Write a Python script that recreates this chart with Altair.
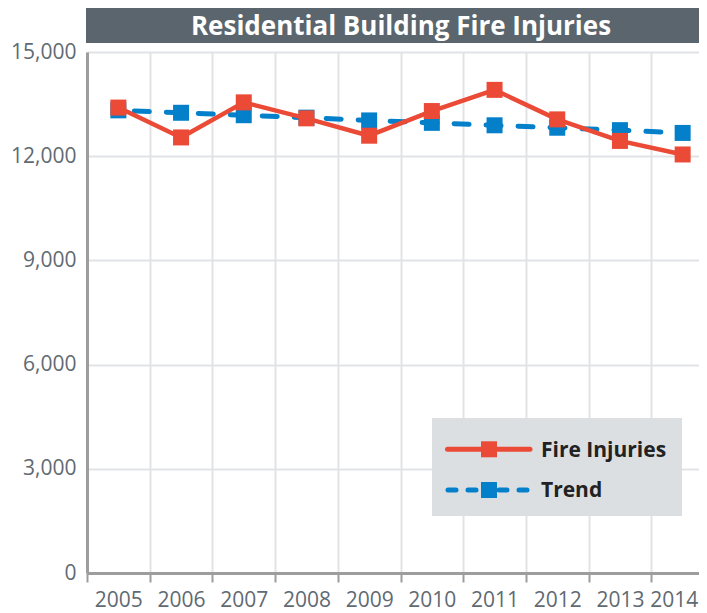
import altair as alt
import pandas as pd

# ---- data ----
years = ["2005", "2006", "2007", "2008", "2009", "2010", "2011", "2012", "2013", "2014"]
injuries = [13400, 12540, 13550, 13090, 12590, 13300, 13910, 13060, 12440, 12050]
trend = [13320, 13250, 13180, 13110, 13030, 12960, 12890, 12820, 12750, 12670]
series_names = ["Fire Injuries", "Trend"]
y_ticks = [0, 3000, 6000, 9000, 12000, 15000]
chart_title = "Residential Building Fire Injuries"

RED = "#ea4a36"
BLUE = "#0480cb"
AXIS_GRAY = "#9d9d9d"
GRID = "#e1e3e6"
LABEL = "#5f6a73"
FONT = "Open Sans"

df = pd.DataFrame({
    "year": years * 2,
    "value": injuries + trend,
    "series": [series_names[0]] * len(years) + [series_names[1]] * len(years),
})

PLOT_W = 612      # visible plot width
BAND_RANGE = 627  # full extent of the 10 year bands
PLOT_H = 521

last_year_test = f"datum.label == '{years[-1]}'"

x_enc = alt.X(
    "year:O",
    bandPosition=0.5,
    scale=alt.Scale(type="band", paddingInner=0, paddingOuter=0, range=[0, BAND_RANGE]),
    axis=alt.Axis(
        title=None, labelAngle=0, tickBand="extent", grid=True,
        labelFontSize=21, labelColor=LABEL, labelFont=FONT, labelPadding=7,
        labelOffset={"condition": {"test": last_year_test, "value": -9}, "value": 0},
        domainColor=AXIS_GRAY, domainWidth=3, tickColor=AXIS_GRAY, tickWidth=2, tickSize=9,
        gridColor=GRID, gridWidth=2,
    ),
)
y_enc = alt.Y(
    "value:Q",
    scale=alt.Scale(domain=[0, 15000], nice=False, zero=True),
    axis=alt.Axis(
        title=None, values=y_ticks, format=",.0f", tickSize=0, labelPadding=11,
        labelFontSize=21, labelColor=LABEL, labelFont=FONT,
        domainColor=AXIS_GRAY, domainWidth=3, gridColor=GRID, gridWidth=2,
    ),
)

base = alt.Chart(df)

trend_line = base.transform_filter(alt.datum.series == series_names[1]).mark_line(
    color=BLUE, strokeWidth=5, strokeDash=[15, 17], strokeDashOffset=16, strokeCap="round"
).encode(x=x_enc, y=y_enc)
trend_pts = base.transform_filter(alt.datum.series == series_names[1]).mark_square(
    color=BLUE, size=256, opacity=1, filled=True
).encode(x=x_enc, y=y_enc)
inj_line = base.transform_filter(alt.datum.series == series_names[0]).mark_line(
    color=RED, strokeWidth=4.5, strokeCap="round", strokeJoin="round"
).encode(x=x_enc, y=y_enc)
inj_pts = base.transform_filter(alt.datum.series == series_names[0]).mark_square(
    color=RED, size=256, opacity=1, filled=True
).encode(x=x_enc, y=y_enc)

# ---- title bar ----
title_df = pd.DataFrame({"t": [chart_title]})
title_bar = alt.Chart(title_df).mark_rect(color="#5b656d").encode(
    x=alt.value(-1), x2=alt.value(BAND_RANGE), y=alt.value(-44), y2=alt.value(-9)
)
title_text = alt.Chart(title_df).mark_text(
    font=FONT, fontSize=26, fontWeight="bold", color="white", align="center", baseline="alphabetic"
).encode(x=alt.value(314), y=alt.value(-17.5), text="t:N")

# ---- legend (drawn box) ----
leg_box = alt.Chart(pd.DataFrame({"b": [0]})).mark_rect(color="#dcdfe2").encode(
    x=alt.value(345), x2=alt.value(595), y=alt.value(366), y2=alt.value(464)
)
leg_layers = [leg_box]
rows = [(series_names[0], RED, None, 397.3, 404.7), (series_names[1], BLUE, [8, 12], 438, 445.3)]
for name, col, dash, yc, ytxt in rows:
    d = pd.DataFrame({"s": [name]})
    kw = dict(color=col, strokeWidth=5, strokeCap="round")
    if dash:
        kw["strokeDash"] = dash
        segs = [(361, 391), (412, 442)]
    else:
        segs = [(360.5, 443)]
    for a, b in segs:
        leg_layers.append(alt.Chart(d).mark_rule(**kw).encode(
            x=alt.value(a), x2=alt.value(b), y=alt.value(yc)))
    leg_layers.append(alt.Chart(d).mark_square(color=col, size=256, opacity=1, filled=True).encode(
        x=alt.value(402), y=alt.value(yc)))
    leg_layers.append(alt.Chart(d).mark_text(
        font=FONT, fontSize=21, fontWeight="bold", color="#222222", align="left", baseline="alphabetic"
    ).encode(x=alt.value(454), y=alt.value(ytxt), text="s:N"))

chart = alt.layer(
    trend_line, trend_pts, inj_line, inj_pts, title_bar, title_text, *leg_layers
).properties(
    width=PLOT_W, height=PLOT_H,
    autosize=alt.AutoSizeParams(type="none"),
    padding={"left": 79, "top": 44, "right": 0, "bottom": 40},
).configure_view(stroke=None).configure(background="white")

chart.save("out.html", embed_options={"renderer": "svg", "actions": False})
